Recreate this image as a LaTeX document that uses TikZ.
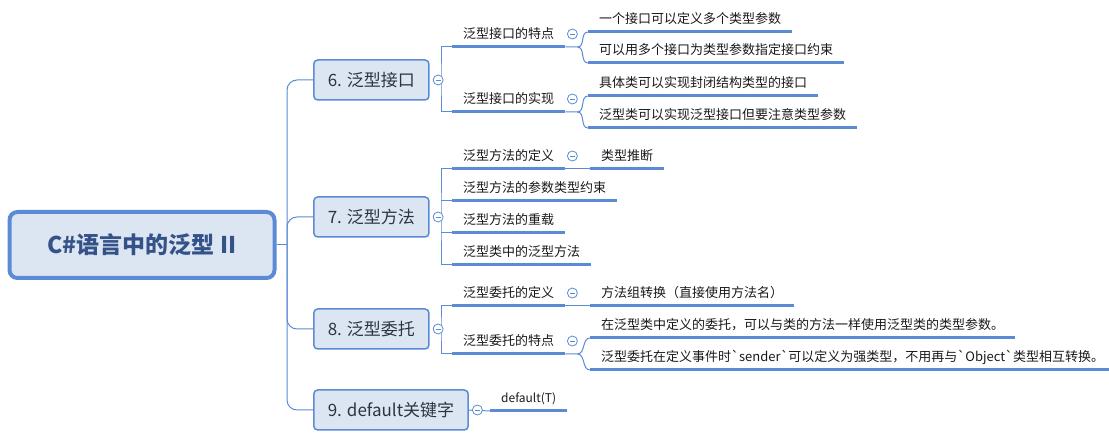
\documentclass[tikz,border=0pt]{standalone}
\usepackage{fontspec}
\setmainfont{Noto Sans CJK SC}
\usetikzlibrary{positioning}
\definecolor{linec}{RGB}{91,139,213}
\definecolor{boxfill}{RGB}{220,230,242}
\definecolor{roottext}{RGB}{52,82,136}
\definecolor{boxtext}{RGB}{45,52,64}
\definecolor{leaftext}{RGB}{25,25,25}

\begin{document}
\begin{tikzpicture}[x=1pt, y=-1pt,
    conn/.style={draw=linec, line width=1pt},
    uline/.style={draw=linec, line width=3pt},
    rootbox/.style={draw=linec, line width=4pt, fill=boxfill, rounded corners=8pt,
      minimum width=265pt, minimum height=66pt, text=roottext,
      font=\fontsize{23}{26}\selectfont\bfseries},
    topic/.style={draw=linec, line width=1.5pt, fill=boxfill, rounded corners=4pt,
      anchor=west, minimum height=40pt, inner xsep=14pt, text=boxtext,
      font=\fontsize{17}{20}\selectfont},
    leaf/.style={anchor=south west, inner xsep=11pt, inner ysep=5pt,
      text height=11pt, text depth=3pt, text=leaftext,
      font=\fontsize{13}{15}\selectfont},
    fold/.style={circle, draw=linec, fill=white, line width=0.8pt,
      minimum size=10pt, inner sep=0pt,
      path picture={\draw[linec, line width=0.8pt]
        ([xshift=-2.6pt]path picture bounding box.center) --
        ([xshift=2.6pt]path picture bounding box.center);}}]
    \useasboundingbox (0,0) rectangle (1109,443);

    % root and main topics
    \node[rootbox] (root) at (142,245) {C\#语言中的泛型 II};
    \node[topic] (b6) at (313,80) {6. 泛型接口};
    \node[topic] (b7) at (313,217) {7. 泛型方法};
    \node[topic] (b8) at (313,329) {8. 泛型委托};
    \node[topic] (b9) at (313,410) {9. default关键字};

    \draw[conn] (root.east) -- (287,245) coordinate (hub);
    \foreach \b in {b6,b7,b8,b9}
        \draw[conn, rounded corners=10pt] (hub) |- (\b.west);

    % 6
    \node[leaf] (s61) at (452,47) {泛型接口的特点};
    \node[leaf] (s62) at (452,112) {泛型接口的实现};
    \node[leaf] (t1) at (588,32) {一个接口可以定义多个类型参数};
    \node[leaf] (t2) at (588,63) {可以用多个接口为类型参数指定接口约束};
    \node[leaf] (t3) at (588,96) {具体类可以实现封闭结构类型的接口};
    \node[leaf] (t4) at (588,128) {泛型类可以实现泛型接口但要注意类型参数};

    % 7
    \node[leaf] (s71) at (452,169) {泛型方法的定义};
    \node[leaf] (t5) at (590,169) {类型推断};
    \node[leaf] (s72) at (452,201) {泛型方法的参数类型约束};
    \node[leaf] (s73) at (452,233) {泛型方法的重载};
    \node[leaf] (s74) at (452,265) {泛型类中的泛型方法};

    % 8
    \node[leaf] (s81) at (452,306) {泛型委托的定义};
    \node[leaf] (t6) at (590,306) {方法组转换（直接使用方法名）};
    \node[leaf] (s82) at (452,354) {泛型委托的特点};
    \node[leaf] (t7) at (590,338) {在泛型类中定义的委托，可以与类的方法一样使用泛型类的类型参数。};
    \node[leaf] (t8) at (590,370) {泛型委托在定义事件时\textasciigrave sender\textasciigrave 可以定义为强类型，不用再与\textasciigrave Object\textasciigrave 类型相互转换。};

    % 9
    \node[leaf, font=\fontsize{12}{14}\selectfont] (t9) at (490,411) {default(T)};

    % level 2 connectors
    \draw[conn] (s61.south west) -| (441,80) |- (s62.south west);
    \draw[conn] (s71.south west) -| (441,217) |- (s74.south west);
    \draw[conn] (s72.south west) -- (441,201);
    \draw[conn] (s73.south west) -- (441,233);
    \draw[conn] (s81.south west) -| (441,329) |- (s82.south west);
    \draw[conn] (b9.east) -- (t9.south west);
    \draw[conn] (s71.south east) -- (t5.south west);
    \draw[conn] (s81.south east) -- (t6.south west);

    % level 3 curves
    \foreach \s/\a/\b in {s61/t1/t2, s62/t3/t4, s82/t7/t8} {
        \draw[conn] (\s.south east) -- ++(12,0) coordinate (k)
            .. controls +(8,0) and +(-8,0) .. (\a.south west);
        \draw[conn] (k) .. controls +(8,0) and +(-8,0) .. (\b.south west);
    }

    % underlines
    \foreach \n in {s61,s62,t1,t2,t3,t4,s71,t5,s72,s73,s74,s81,t6,s82,t7,t8,t9}
        \draw[uline] (\n.south west) -- (\n.south east);

    % fold markers
    \foreach \b in {b6,b7,b8,b9}
        \node[fold, right=3pt of \b] (f\b) {};
    \foreach \s in {s61,s62,s71,s81,s82}
        \node[fold] (f\s) at ([shift={(7pt,13pt)}]\s.south east) {};
\end{tikzpicture}
\end{document}
